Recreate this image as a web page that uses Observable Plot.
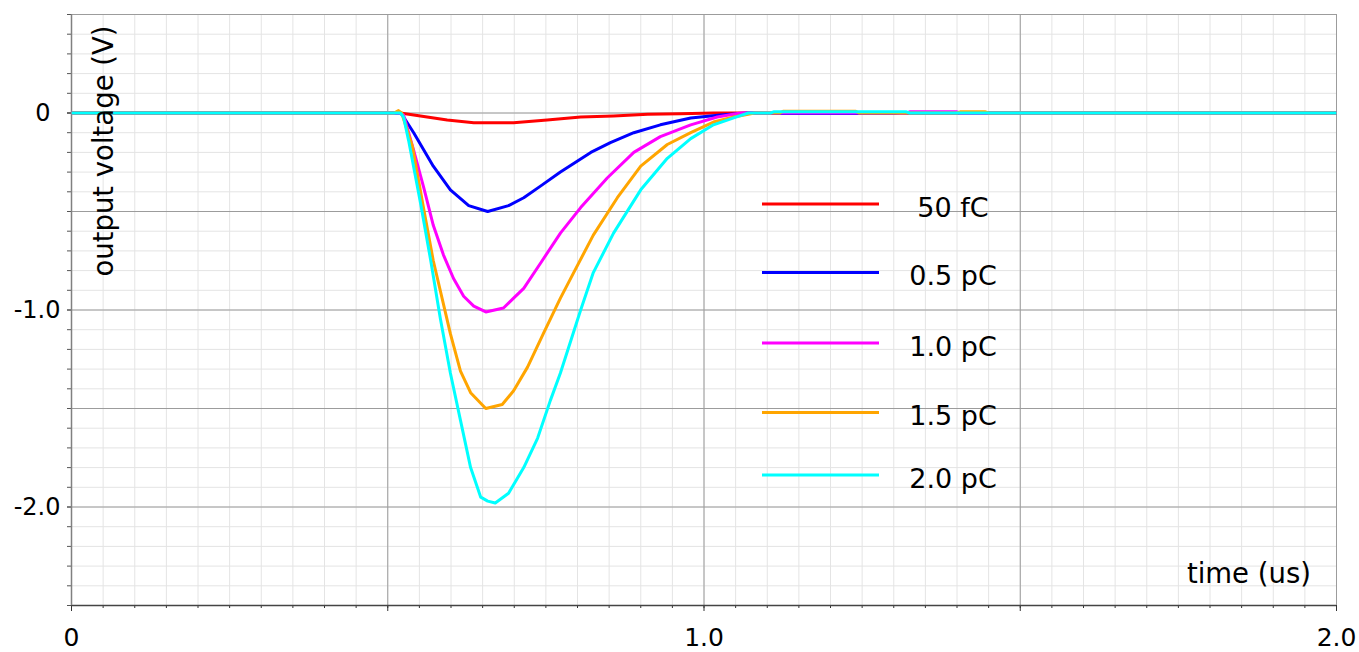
<!DOCTYPE html>
<html><head><meta charset="utf-8">
<script src="https://cdn.jsdelivr.net/npm/d3@7"></script>
<script src="https://cdn.jsdelivr.net/npm/@observablehq/plot@0.6"></script>
<style>
html,body{margin:0;padding:0;background:#fff;}
#chart{position:relative;width:1359px;height:652px;font-family:"DejaVu Sans",sans-serif;}
</style></head><body><div id="chart"></div>
<script>
// ---- data ----
const seriesNames = ["50 fC", "0.5 pC", "1.0 pC", "1.5 pC", "2.0 pC"];
const seriesColors = ["#ff0000", "#0000ff", "#ff00ff", "#ffa500", "#00ffff"];

const t50fC = [0, 0.52, 0.594, 0.636, 0.699, 0.752, 0.805, 0.857, 0.911, 0.963, 1.015, 2.0];
const v50fC = [0, 0, -0.036, -0.05, -0.05, -0.036, -0.02, -0.015, -0.006, -0.004, 0, 0];

const t05pC = [0, 0.52, 0.523, 0.541, 0.572, 0.599, 0.628, 0.658, 0.691, 0.715, 0.742, 0.773, 0.821, 0.852, 0.889, 0.931, 0.979, 1.026, 1.069, 1.12, 1.30, 1.31, 2.0];
const v05pC = [0, 0, -0.01, -0.10, -0.27, -0.39, -0.47, -0.50, -0.47, -0.43, -0.37, -0.30, -0.20, -0.15, -0.10, -0.06, -0.025, -0.01, 0, -0.003, -0.003, 0, 0];

const t10pC = [0, 0.52, 0.525, 0.541, 0.557, 0.572, 0.588, 0.604, 0.620, 0.636, 0.655, 0.683, 0.699, 0.715, 0.742, 0.773, 0.805, 0.847, 0.889, 0.931, 0.979, 1.021, 1.058, 1.32, 1.325, 1.40, 1.405, 2.0];
const v10pC = [0, 0, -0.01, -0.19, -0.38, -0.57, -0.72, -0.84, -0.93, -0.98, -1.01, -0.99, -0.94, -0.89, -0.76, -0.61, -0.48, -0.33, -0.20, -0.12, -0.06, -0.02, 0, 0, 0.006, 0.006, 0, 0];

const t15pC = [0, 0.51, 0.517, 0.522, 0.528, 0.539, 0.557, 0.572, 0.599, 0.615, 0.631, 0.655, 0.681, 0.699, 0.721, 0.746, 0.773, 0.794, 0.825, 0.863, 0.900, 0.942, 0.979, 1.015, 1.047, 1.08, 1.12, 1.125, 1.24, 1.245, 1.40, 1.405, 1.445, 1.45, 2.0];
const v15pC = [0, 0, 0.012, 0, -0.06, -0.17, -0.49, -0.75, -1.12, -1.31, -1.42, -1.50, -1.48, -1.41, -1.29, -1.12, -0.94, -0.81, -0.62, -0.43, -0.27, -0.16, -0.10, -0.046, -0.02, 0, 0, 0.009, 0.009, 0, 0, 0.006, 0.006, 0, 0];

const t20pC = [0, 0.52, 0.525, 0.533, 0.552, 0.568, 0.583, 0.599, 0.615, 0.631, 0.647, 0.658, 0.670, 0.691, 0.715, 0.737, 0.757, 0.773, 0.805, 0.825, 0.857, 0.900, 0.942, 0.979, 1.015, 1.047, 1.07, 1.105, 1.11, 1.32, 1.325, 2.0];
const v20pC = [0, 0, -0.02, -0.14, -0.46, -0.75, -1.04, -1.32, -1.56, -1.80, -1.95, -1.97, -1.98, -1.93, -1.80, -1.65, -1.46, -1.32, -1.00, -0.81, -0.61, -0.39, -0.23, -0.13, -0.06, -0.025, 0, 0, 0.006, 0.006, 0, 0];

const seriesTimes = [t50fC, t05pC, t10pC, t15pC, t20pC];
const seriesValues = [v50fC, v05pC, v10pC, v15pC, v20pC];

const xTickValues = [0, 1, 2];
const xTickLabels = ["0", "1.0", "2.0"];
const yTickValues = [-1, -2];
const yTickLabels = ["-1.0", "-2.0"];
const yZeroLabel = "0";
const xTitle = "time (us)";
const yTitle = "output voltage (V)";

// ---- layout ----
const W = 1359, H = 652;
const M = {left: 71, right: 23, top: 14, bottom: 47};
const legendRows = [204, 272.5, 343, 412.5, 475];

const rows = [];
seriesNames.forEach((name, i) => {
  seriesTimes[i].forEach((t, j) => rows.push({series: name, t, v: seriesValues[i][j]}));
});

const minorX = d3.range(0, 2.0001, 0.05).map(d => +d.toFixed(2));
const majorX = d3.range(0, 2.0001, 0.5);
const minorY = d3.range(-25, 6, 1).map(d => d / 10);
const majorY = d3.range(-5, 2, 1).map(d => d / 2);

const xLab = d => { const k = xTickValues.indexOf(d); return k >= 0 ? xTickLabels[k] : ""; };
const yLab = d => { const k = yTickValues.findIndex(v => Math.abs(v - d) < 1e-9); return k >= 0 ? yTickLabels[k] : ""; };

const plot = Plot.plot({
  width: W, height: H,
  marginLeft: M.left, marginRight: M.right, marginTop: M.top, marginBottom: M.bottom,
  style: {fontFamily: "DejaVu Sans", fontSize: "24px", color: "#000", background: "#fff"},
  x: {domain: [0, 2], label: null},
  y: {domain: [-2.5, 0.5], label: null},
  color: {domain: seriesNames, range: seriesColors},
  marks: [
    Plot.gridX(minorX, {stroke: "#e4e4e4", strokeOpacity: 1, strokeWidth: 1}),
    Plot.gridY(minorY, {stroke: "#e4e4e4", strokeOpacity: 1, strokeWidth: 1}),
    Plot.gridX(majorX, {stroke: "#9c9c9c", strokeOpacity: 1, strokeWidth: 1}),
    Plot.gridY(majorY, {stroke: "#9c9c9c", strokeOpacity: 1, strokeWidth: 1}),
    Plot.axisX(minorX, {tickSize: 3, tickFormat: () => "", stroke: "#333", label: null}),
    Plot.axisX(majorX, {tickSize: 6, tickPadding: 17, tickFormat: xLab, stroke: "#333", fontSize: 25, fill: "#000", label: null}),
    Plot.axisY(minorY, {tickSize: 4, tickFormat: () => "", stroke: "#555", label: null}),
    Plot.axisY(majorY, {tickSize: 4, tickPadding: 7, tickFormat: yLab, stroke: "#555", fontSize: 24, fill: "#000", label: null}),
    Plot.axisY([0], {tickSize: 4, tickPadding: 17, tickFormat: () => yZeroLabel, stroke: "#555", fontSize: 24, fill: "#000", label: null}),
    Plot.ruleY([-2.5], {stroke: "#444", strokeWidth: 1.5}),
    Plot.ruleX([0], {stroke: "#808080", strokeWidth: 1.5}),
    Plot.line(rows, {x: "t", y: "v", z: "series", stroke: "series", strokeWidth: 3, strokeLinejoin: "round", strokeLinecap: "butt"})
  ]
});

document.getElementById("chart").appendChild(plot);

// titles and in-plot legend
const svg = d3.select(plot);
svg.append("text")
  .attr("transform", "translate(113,151) rotate(-90)")
  .attr("text-anchor", "middle")
  .attr("font-family", "DejaVu Sans").attr("font-size", 27.5).attr("fill", "#000")
  .text(yTitle);
svg.append("text")
  .attr("x", W - M.right - 25).attr("y", 583)
  .attr("text-anchor", "end")
  .attr("font-family", "DejaVu Sans").attr("font-size", 27.5).attr("fill", "#000")
  .text(xTitle);

const lg = svg.append("g");
seriesNames.forEach((name, i) => {
  const y = legendRows[i];
  lg.append("line").attr("x1", 762).attr("x2", 879).attr("y1", y).attr("y2", y)
    .attr("stroke", seriesColors[i]).attr("stroke-width", 3);
  lg.append("text").attr("x", 953).attr("y", y + 12.5)
    .attr("text-anchor", "middle")
    .attr("font-family", "DejaVu Sans").attr("font-size", 27).attr("fill", "#000")
    .text(name);
});
</script></body></html>
